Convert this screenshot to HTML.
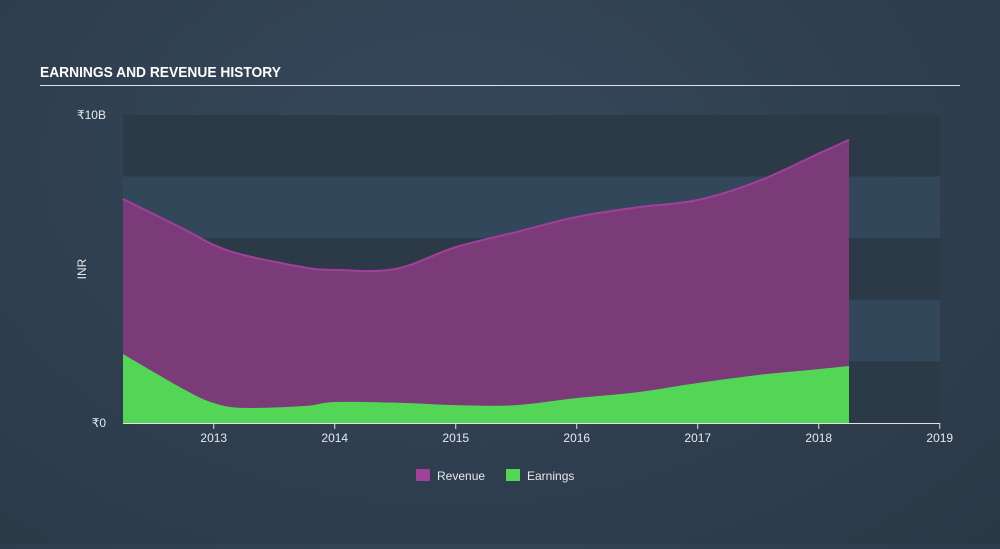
<!DOCTYPE html>
<html><head><meta charset="utf-8"><style>
html,body{margin:0;padding:0}
body{width:1000px;height:544px;overflow:hidden;background:radial-gradient(ellipse at 45% 30%,#35495b 0%,#2f3e4e 60%,#2b3846 100%);font-family:"Liberation Sans",sans-serif}
</style></head><body>
<svg width="1000" height="544">
<text x="40" y="77" fill="#fff" font-size="15" font-weight="bold" transform="scale(0.92,1)" style="transform-origin:40px 77px">EARNINGS AND REVENUE HISTORY</text>
<line x1="40" y1="85.5" x2="960" y2="85.5" stroke="#dfe3e8" stroke-width="1"/>
<g id="bands"></g>
<g id="areas"></g>
<g id="axes"></g>
<g>
<rect x="416" y="469" width="14" height="12" fill="#a0409a"/>
<text x="437" y="480" fill="#e6e9ec" font-size="12">Revenue</text>
<rect x="506" y="469" width="14" height="12" fill="#53d656"/>
<text x="527" y="480" fill="#e6e9ec" font-size="12">Earnings</text>
</g>
</svg>
<script>
const years=[2012.25,2012.75,2013,2013.25,2013.75,2014,2014.5,2015,2015.5,2016,2016.5,2017,2017.5,2018,2018.25];
const revenue=[7.27,6.3,5.78,5.45,5.05,4.97,5.0,5.71,6.2,6.69,7.0,7.24,7.85,8.75,9.19];
const earnings=[2.24,1.1,0.65,0.49,0.55,0.68,0.66,0.58,0.58,0.81,1.0,1.3,1.56,1.75,1.85];
const xTicks=[2013,2014,2015,2016,2017,2018,2019];
const yTickLabels=["₹0","₹10B"];
const yMax=10;
const X=v=>123+(v-2012.25)*121, Y=v=>423-v/yMax*308;
const NS="http://www.w3.org/2000/svg";
function mk(t,a,p){const e=document.createElementNS(NS,t);for(const k in a)e.setAttribute(k,a[k]);p.appendChild(e);return e;}
const bands=document.getElementById('bands');
for(let i=0;i<5;i++){const r=mk('rect',{x:123,y:Y(yMax-i*2),width:817,height:308/5,fill:i%2==0?'#2c3a48':'#33475a'},bands);

}
function curve(vals){const p=years.map((y,i)=>[X(y),Y(vals[i])]);let d=`M${p[0][0]},${p[0][1]}`;
for(let i=0;i<p.length-1;i++){const p0=p[i-1]||p[i],p1=p[i],p2=p[i+1],p3=p[i+2]||p[i+1];
d+=` C${p1[0]+(p2[0]-p0[0])/6},${p1[1]+(p2[1]-p0[1])/6} ${p2[0]-(p3[0]-p1[0])/6},${p2[1]-(p3[1]-p1[1])/6} ${p2[0]},${p2[1]}`;}return d;}
const areas=document.getElementById('areas');
const x0=X(years[0]),x1=X(years[years.length-1]),yb=Y(0);
const rc=curve(revenue),ec=curve(earnings);
let e=mk('path',{d:rc+` L${x1},${yb} L${x0},${yb}Z`,fill:'#7b3a78'},areas);


e=mk('path',{d:rc,fill:'none',stroke:'#a0409a','stroke-width':2},areas);


e=mk('path',{d:ec+` L${x1},${yb} L${x0},${yb}Z`,fill:'#53d656'},areas);


const ax=document.getElementById('axes');
e=mk('line',{x1:123,y1:423.5,x2:940,y2:423.5,stroke:'#dfe3e8'},ax);


xTicks.forEach(t=>{const l=mk('line',{x1:X(t),y1:423,x2:X(t),y2:429,stroke:'#dfe3e8'},ax);


const tx=mk('text',{x:X(t),y:442,fill:'#e6e9ec','font-size':12,'text-anchor':'middle'},ax);tx.textContent=t;

});
[0,yMax].forEach((v,i)=>{const tx=mk('text',{x:106,y:Y(v)+4,fill:'#e6e9ec','font-size':12,'text-anchor':'end'},ax);tx.textContent=yTickLabels[i];

});
const yt=mk('text',{x:86,y:269,fill:'#e6e9ec','font-size':12,'text-anchor':'middle',transform:'rotate(-90 86 269)'},ax);yt.textContent='INR';


</script>
</body></html>
